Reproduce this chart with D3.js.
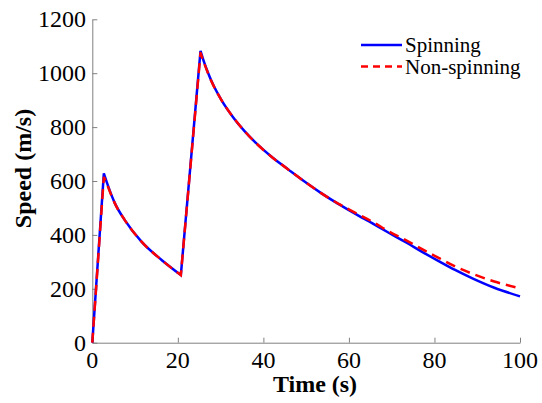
<!DOCTYPE html>
<html>
<head>
<meta charset="utf-8">
<script src="https://cdn.jsdelivr.net/npm/d3@7"></script>
<style>
  html, body { margin: 0; padding: 0; background: #fff; }
  svg { display: block; }
  svg text { font-family: "Liberation Serif", "DejaVu Serif", serif; }
</style>
</head>
<body>
<svg id="chart" width="542" height="403"></svg>
<script>
// ---- data ----
const timeSpin = [0, 2.7, 3.5, 4.3, 5.3, 7.6, 11.5, 16.2, 20.7, 25.3, 26.2, 27.1, 28, 30.2, 33, 35.7, 38, 41.9, 45.8, 49.7, 53.6, 57.5, 61.4, 65.7, 69.2, 73.5, 77, 81.2, 84.7, 89, 94, 100];
const speedSpin = [0, 628, 590, 555, 517, 455, 375, 307, 251, 1083, 1038, 1000, 966, 900, 835, 783, 745, 690, 643, 597, 554, 515, 479, 441, 409, 371, 338, 301, 271, 238, 204, 172];
const timeNon = [0, 2.7, 3.5, 4.3, 5.3, 7.6, 11.5, 16.2, 20.7, 25.3, 26.2, 27.1, 28, 30.2, 33, 35.7, 38, 41.9, 45.8, 49.7, 53.6, 57.5, 61.4, 65.7, 69.2, 73.5, 77, 81.2, 84.7, 89, 94, 100];
const speedNon = [0, 615, 585, 553, 516, 455, 375, 307, 251, 1075, 1035, 998, 965, 900, 835, 783, 745, 690, 643, 597, 554, 516, 483, 447, 414, 379, 348, 313, 284, 255, 227, 202];
const xTicks = [0, 20, 40, 60, 80, 100];
const yTicks = [0, 200, 400, 600, 800, 1000, 1200];
const seriesNames = ["Spinning", "Non-spinning"];

// ---- layout ----
const svg = d3.select("#chart");
const mLeft = 92.3, mRight = 520, mTop = 19.3, mBottom = 342.7;
const x = d3.scaleLinear().domain([0, 100]).range([mLeft, mRight]);
const y = d3.scaleLinear().domain([0, 1200]).range([mBottom, mTop]);
const axisColor = "#808080";

// axes
const xAxis = svg.append("g").attr("transform", `translate(0,${mBottom})`)
  .call(d3.axisBottom(x).tickValues(xTicks).tickSizeInner(-5).tickSizeOuter(0).tickPadding(0).tickFormat(d3.format("d")));
xAxis.selectAll("text").remove();
const yAxis = svg.append("g").attr("transform", `translate(${mLeft},0)`)
  .call(d3.axisLeft(y).tickValues(yTicks).tickSizeInner(-5).tickSizeOuter(0).tickFormat(d3.format("d")));
yAxis.selectAll("text").remove();
svg.selectAll(".domain, .tick line").attr("stroke", axisColor).attr("stroke-width", 1);

// tick labels
svg.append("g").selectAll("text").data(xTicks).join("text")
  .attr("x", d => x(d)).attr("y", 368)
  .attr("text-anchor", "middle")
  .attr("font-size", 24).attr("fill", "#000")
  .text(d => d);
svg.append("g").selectAll("text").data(yTicks).join("text")
  .attr("x", 86).attr("y", d => y(d) + 8)
  .attr("text-anchor", "end")
  .attr("font-size", 24).attr("fill", "#000")
  .text(d => d);

// axis titles
svg.append("text").attr("x", 315).attr("y", 392)
  .attr("text-anchor", "middle").attr("font-size", 24).attr("font-weight", "bold")
  .text("Time (s)");
svg.append("text").attr("transform", "translate(31,168.5) rotate(-90)")
  .attr("text-anchor", "middle").attr("font-size", 24).attr("font-weight", "bold")
  .text("Speed (m/s)");

// lines: linear rises, smooth decays; sharp corners kept at peaks/troughs
function pathFor(data) {
  const lin = d3.line().x(d => x(d[0])).y(d => y(d[1]));
  const smooth = d3.line().x(d => x(d[0])).y(d => y(d[1])).curve(d3.curveMonotoneX);
  const breaks = [0];
  for (let i = 1; i < data.length - 1; i++) {
    const a = data[i][1] - data[i - 1][1], b = data[i + 1][1] - data[i][1];
    if ((a > 0) !== (b > 0)) breaks.push(i);
  }
  breaks.push(data.length - 1);
  let d = "";
  for (let k = 0; k < breaks.length - 1; k++) {
    const seg = data.slice(breaks[k], breaks[k + 1] + 1);
    const rising = seg[seg.length - 1][1] > seg[0][1];
    const s = (rising ? lin : smooth)(seg);
    d += k === 0 ? s : s.replace(/^M/, "L");
  }
  return d;
}
const spin = timeSpin.map((t, i) => [t, speedSpin[i]]);
const non = timeNon.map((t, i) => [t, speedNon[i]]);
svg.append("path").attr("d", pathFor(spin))
  .attr("fill", "none").attr("stroke", "#0000ff").attr("stroke-width", 2.5);
svg.append("path").attr("d", pathFor(non))
  .attr("fill", "none").attr("stroke", "#ff0000").attr("stroke-width", 2.5).attr("stroke-dasharray", "10,6");

// legend
const leg = svg.append("g");
leg.append("line").attr("x1", 361).attr("x2", 402).attr("y1", 45).attr("y2", 45)
  .attr("stroke", "#0000ff").attr("stroke-width", 2.5);
leg.append("line").attr("x1", 361).attr("x2", 402).attr("y1", 66.5).attr("y2", 66.5)
  .attr("stroke", "#ff0000").attr("stroke-width", 2.5).attr("stroke-dasharray", "7,5");
leg.append("text").attr("x", 405).attr("y", 52).attr("font-size", 21).text(seriesNames[0]);
leg.append("text").attr("x", 405).attr("y", 73.5).attr("font-size", 21).text(seriesNames[1]);
</script>
</body>
</html>
